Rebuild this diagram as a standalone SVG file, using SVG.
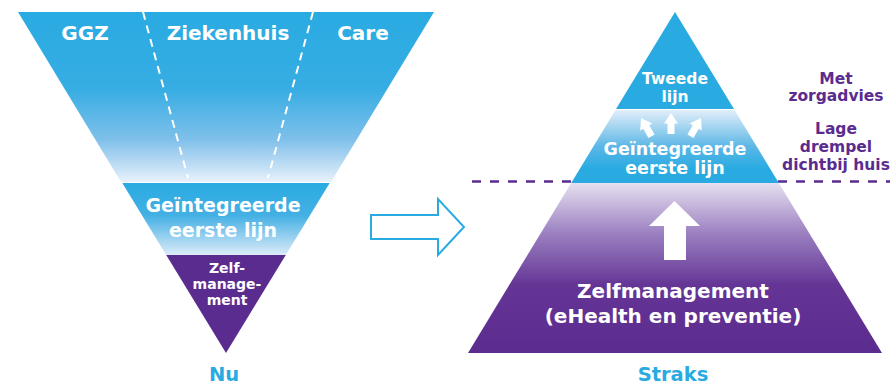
<svg xmlns="http://www.w3.org/2000/svg" width="890" height="387" viewBox="0 0 890 387">
  <defs>
    <linearGradient id="gTopL" x1="0" y1="12" x2="0" y2="182" gradientUnits="userSpaceOnUse">
      <stop offset="0" stop-color="#29abe2"/>
      <stop offset="0.45" stop-color="#36ade3"/>
      <stop offset="0.75" stop-color="#7fc0ea"/>
      <stop offset="1" stop-color="#e8f1fb"/>
    </linearGradient>
    <linearGradient id="gBandL" x1="0" y1="183" x2="0" y2="255" gradientUnits="userSpaceOnUse">
      <stop offset="0" stop-color="#29abe2"/>
      <stop offset="0.45" stop-color="#44b0e4"/>
      <stop offset="1" stop-color="#dcebf9"/>
    </linearGradient>
    <linearGradient id="gMidR" x1="0" y1="110" x2="0" y2="183" gradientUnits="userSpaceOnUse">
      <stop offset="0" stop-color="#e2eefa"/>
      <stop offset="0.5" stop-color="#5cb7e6"/>
      <stop offset="0.8" stop-color="#29abe2"/>
      <stop offset="1" stop-color="#29abe2"/>
    </linearGradient>
    <linearGradient id="gBotR" x1="0" y1="183" x2="0" y2="353" gradientUnits="userSpaceOnUse">
      <stop offset="0" stop-color="#e6e0f0"/>
      <stop offset="0.3" stop-color="#9a7fc0"/>
      <stop offset="0.6" stop-color="#643595"/>
      <stop offset="1" stop-color="#5b2c8f"/>
    </linearGradient>
    <style>
      .t { font-family: "DejaVu Sans", "Liberation Sans", sans-serif; font-weight: bold; text-anchor: middle; }
      .w { fill: #ffffff; }
      .b { fill: #29abe2; }
      .p { fill: #5b2c8f; }
      .dashW { stroke: #ffffff; stroke-width: 2; stroke-dasharray: 8 6; fill: none; }
      .sa { fill: #ffffff; }
    </style>
    <path id="smallArrow" d="M0,0 L7,10.5 H3.5 V21 H-3.5 V10.5 H-7 Z"/>
  </defs>

  <!-- Left: Nu -->
  <g id="nu-top">
    <polygon points="18,12 434,12 331,182 121,182" fill="url(#gTopL)"/>
    <line class="dashW" x1="143" y1="12" x2="188" y2="178"/>
    <line class="dashW" x1="313" y1="12" x2="268" y2="178"/>
    <text class="t w" x="85" y="40" font-size="20">GGZ</text>
    <text class="t w" x="228" y="40" font-size="20">Ziekenhuis</text>
    <text class="t w" x="363" y="40" font-size="20">Care</text>
  </g>
  <g id="nu-band">
    <polygon points="122.3,183 329.7,183 285.8,255 166.2,255" fill="url(#gBandL)"/>
    <text class="t w" x="223" y="212" font-size="19">Geïntegreerde</text>
    <text class="t w" x="223" y="237" font-size="19">eerste lijn</text>
  </g>
  <g id="nu-zelf">
    <polygon points="166.2,255 285.8,255 226,353" fill="#5b2c8f"/>
    <text class="t w" x="227" y="273" font-size="14">Zelf-</text>
    <text class="t w" x="227" y="289" font-size="14">manage-</text>
    <text class="t w" x="227" y="305" font-size="14">ment</text>
  </g>
  <g id="label-nu">
    <text class="t b" x="224" y="381" font-size="19.5">Nu</text>
  </g>

  <!-- Connectors -->
  <g id="connectors">
    <path d="M371,215 H438 V199 L464,227 L438,255 V239 H371 Z" fill="#ffffff" stroke="#29abe2" stroke-width="2" stroke-linejoin="miter"/>
    <line x1="472" y1="181.5" x2="890" y2="181.5" stroke="#5b2c8f" stroke-width="2.5" stroke-dasharray="9 9"/>
  </g>

  <!-- Right: Straks -->
  <g id="straks-tweede">
    <polygon points="675,12 734,109 616,109" fill="#29abe2"/>
    <text class="t w" x="675" y="84" font-size="15.5">Tweede</text>
    <text class="t w" x="675" y="101.5" font-size="15.5">lijn</text>
  </g>
  <g id="straks-eerste">
    <polygon points="615.5,110 734.5,110 778.8,183 571.2,183" fill="url(#gMidR)"/>
    <use href="#smallArrow" class="sa" transform="translate(671,113)"/>
    <use href="#smallArrow" class="sa" transform="translate(641,118) rotate(-30)"/>
    <use href="#smallArrow" class="sa" transform="translate(701,118) rotate(30)"/>
    <text class="t w" x="675" y="155" font-size="17.5">Geïntegreerde</text>
    <text class="t w" x="675" y="174" font-size="17.5">eerste lijn</text>
  </g>
  <g id="straks-zelf">
    <polygon points="571.2,183 778.8,183 882,353 468,353" fill="url(#gBotR)"/>
    <path d="M674.5,201 L700,226 H686 V260 H664 V226 H649 Z" fill="#ffffff"/>
    <text class="t w" x="673" y="298" font-size="20">Zelfmanagement</text>
    <text class="t w" x="673" y="323" font-size="20">(eHealth en preventie)</text>
  </g>
  <g id="label-straks">
    <text class="t b" x="673" y="381" font-size="19.5">Straks</text>
  </g>
  <g id="label-zorgadvies">
    <text class="t p" x="836" y="84" font-size="15.5">Met</text>
    <text class="t p" x="836" y="101" font-size="15.5">zorgadvies</text>
  </g>
  <g id="label-drempel">
    <text class="t p" x="836" y="134" font-size="15.5">Lage</text>
    <text class="t p" x="836" y="152" font-size="15.5">drempel</text>
    <text class="t p" x="836" y="170" font-size="15.5">dichtbij huis</text>
  </g>
</svg>
